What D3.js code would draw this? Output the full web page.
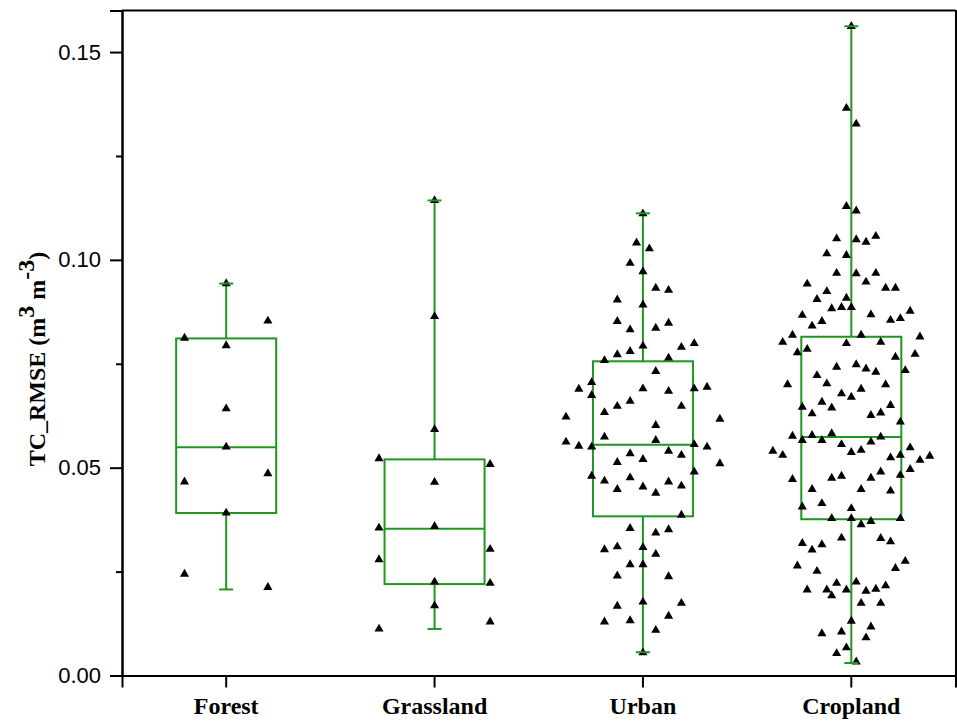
<!DOCTYPE html>
<html>
<head>
<meta charset="utf-8">
<script src="https://cdn.jsdelivr.net/npm/d3@7"></script>
<style>
	body { margin: 0; background: #fff; }
	svg { display: block; }
</style>
</head>
<body>
<svg class="chartContainer"></svg>
<script>
// ---------------- data ---------------- //
var categories = ["Forest", "Grassland", "Urban", "Cropland"];

// TC_RMSE of each site, in worksheet order
var forestValues = [0.0244, 0.0212, 0.0391, 0.0466, 0.0486, 0.0550, 0.0642, 0.0794, 0.0812, 0.0853, 0.0943];

var grasslandValues = [0.0112, 0.0168, 0.0129, 0.0279, 0.0225, 0.0222, 0.0355, 0.0359, 0.0304,
	0.0465, 0.0522, 0.0592, 0.0508, 0.0864, 0.1143];

var urbanValues = [0.1111,
	0.1041, 0.1027,
	0.0904, 0.0992, 0.0972, 0.0932, 0.0927,
	0.0852, 0.0832, 0.0892, 0.0836, 0.0848,
	0.0705, 0.0758, 0.0772, 0.0780, 0.0793, 0.0732, 0.0764, 0.0790, 0.0799,
	0.0622, 0.0689, 0.0674, 0.0633, 0.0648, 0.0660, 0.0690, 0.0602, 0.0684, 0.0648, 0.0690, 0.0694, 0.0617,
	0.0562, 0.0552, 0.0550, 0.0574, 0.0513, 0.0534, 0.0520, 0.0566, 0.0540, 0.0530, 0.0556, 0.0550, 0.0510,
	0.0480, 0.0468, 0.0448, 0.0476, 0.0454, 0.0439, 0.0466, 0.0456, 0.0490,
	0.0303, 0.0310, 0.0354, 0.0308, 0.0343, 0.0351, 0.0386,
	0.0240, 0.0267, 0.0267, 0.0292, 0.0238,
	0.0129, 0.0167, 0.0132, 0.0177, 0.0109, 0.0143, 0.0174,
	0.0055];

var croplandValues = [0.1562,
	0.1365, 0.1327,
	0.1129, 0.1118,
	0.1015, 0.1051, 0.1011, 0.1049, 0.1043, 0.1057,
	0.0942, 0.0905, 0.0924, 0.0968, 0.0908, 0.0967, 0.0947, 0.0968, 0.0932, 0.0932,
	0.0802, 0.0819, 0.0867, 0.0841, 0.0852, 0.0883, 0.0886, 0.0886, 0.0819, 0.0868, 0.0802, 0.0855, 0.0859, 0.0877, 0.0815,
	0.0700, 0.0777, 0.0785, 0.0722, 0.0702, 0.0742, 0.0799, 0.0748, 0.0738, 0.0730, 0.0700, 0.0766, 0.0734, 0.0773,
	0.0646, 0.0630, 0.0658, 0.0644, 0.0678, 0.0670, 0.0689, 0.0626, 0.0632, 0.0650, 0.0610,
	0.0540, 0.0530, 0.0576, 0.0566, 0.0578, 0.0566, 0.0582, 0.0556, 0.0537, 0.0542, 0.0562, 0.0574, 0.0524, 0.0530, 0.0548, 0.0518, 0.0528,
	0.0472, 0.0406, 0.0448, 0.0414, 0.0475, 0.0480, 0.0402, 0.0448, 0.0475, 0.0490, 0.0444, 0.0482, 0.0496,
	0.0318, 0.0302, 0.0315, 0.0378, 0.0331, 0.0378, 0.0363, 0.0371, 0.0330, 0.0322, 0.0378,
	0.0264, 0.0206, 0.0251, 0.0206, 0.0222, 0.0206, 0.0225, 0.0203, 0.0208, 0.0216, 0.0258, 0.0275,
	0.0101, 0.0192, 0.0105, 0.0131, 0.0174, 0.0117, 0.0174,
	0.0053, 0.0067, 0.0033, 0.0091];

// box statistics (same order as categories)
var boxMin = [0.0207, 0.0112, 0.0056, 0.0030];
var boxQ1 = [0.0391, 0.0220, 0.0383, 0.0376];
var boxMedian = [0.0549, 0.0353, 0.0555, 0.0574];
var boxQ3 = [0.0811, 0.0520, 0.0756, 0.0815];
var boxMax = [0.0943, 0.1143, 0.1112, 0.1562];

var yTickValues = [0, 0.05, 0.10, 0.15];
var yMinorTicks = [0.025, 0.075, 0.125];

function drawChart() {
	"use strict";
	var width = 957, height = 723;
	var left = 122, right = 955.5, top = 10.5, bottom = 675.5;
	var green = "#1f961f";

	var svg = d3.select(".chartContainer")
		.attr("width", width)
		.attr("height", height);

	var x = d3.scaleBand()
		.domain(categories)
		.range([left, right])
		.padding(0);
	var y = d3.scaleLinear()
		.domain([0, 0.16])
		.range([bottom, top]);

	var boxWidth = x.bandwidth() * 0.48;
	var capWidth = 14;
	var spread = x.bandwidth() * 0.8;

	// Bin the points by 0.01 and spread each bin sideways (like Origin does)
	function binLayout(values) {
		var bins = d3.group(values, function(v) { return Math.floor(v * 100 + 1e-9); });
		var maxCount = d3.max(Array.from(bins.values()), function(b) { return b.length; });
		var step = spread / maxCount;
		var out = [];
		bins.forEach(function(b) {
			b.forEach(function(v, k) {
				out.push({value: v, offset: (k - (b.length - 1) / 2) * step});
			});
		});
		return out;
	}

	var groups = [forestValues, grasslandValues, urbanValues, croplandValues].map(function(vals, i) {
		return {
			name: categories[i],
			min: boxMin[i], q1: boxQ1[i], median: boxMedian[i], q3: boxQ3[i], max: boxMax[i],
			points: binLayout(vals)
		};
	});

	function cx(d) { return x(d.name) + x.bandwidth() / 2; }

	// ----- boxes ----- //
	var box = svg.selectAll("g.box")
		.data(groups)
		.enter().append("g")
		.attr("class", "box")
		.attr("fill", "none")
		.attr("stroke", green)
		.attr("stroke-width", 2);
	box.append("line")// upper whisker
		.attr("x1", cx).attr("x2", cx)
		.attr("y1", function(d) { return y(d.q3); })
		.attr("y2", function(d) { return y(d.max); });
	box.append("line")// lower whisker
		.attr("x1", cx).attr("x2", cx)
		.attr("y1", function(d) { return y(d.q1); })
		.attr("y2", function(d) { return y(d.min); });
	box.append("rect")
		.attr("x", function(d) { return cx(d) - boxWidth / 2; })
		.attr("y", function(d) { return y(d.q3); })
		.attr("width", boxWidth)
		.attr("height", function(d) { return y(d.q1) - y(d.q3); });
	box.append("line")// median
		.attr("x1", function(d) { return cx(d) - boxWidth / 2; })
		.attr("x2", function(d) { return cx(d) + boxWidth / 2; })
		.attr("y1", function(d) { return y(d.median); })
		.attr("y2", function(d) { return y(d.median); });

	// ----- points ----- //
	var tri = d3.symbol().type(d3.symbolTriangle).size(36);
	groups.forEach(function(g) {
		svg.append("g")
			.selectAll("path")
			.data(g.points)
			.enter().append("path")
			.attr("d", tri)
			.attr("fill", "#000")
			.attr("transform", function(p) {
				return "translate(" + (cx(g) + p.offset) + "," + y(p.value) + ")";
			});
	});

	// whisker caps on top
	var caps = svg.selectAll("g.caps")
		.data(groups)
		.enter().append("g")
		.attr("stroke", green)
		.attr("stroke-width", 2);
	caps.append("line")
		.attr("x1", function(d) { return cx(d) - capWidth / 2; })
		.attr("x2", function(d) { return cx(d) + capWidth / 2; })
		.attr("y1", function(d) { return y(d.max); })
		.attr("y2", function(d) { return y(d.max); });
	caps.append("line")
		.attr("x1", function(d) { return cx(d) - capWidth / 2; })
		.attr("x2", function(d) { return cx(d) + capWidth / 2; })
		.attr("y1", function(d) { return y(d.min); })
		.attr("y2", function(d) { return y(d.min); });

	// ----- axes ----- //
	var yAxis = d3.axisLeft(y)
		.tickValues(yTickValues)
		.tickFormat(d3.format(".2f"))
		.tickSize(12)
		.tickPadding(9);
	var gy = svg.append("g")
		.attr("transform", "translate(" + left + ",0)")
		.call(yAxis);
	gy.selectAll("text")
		.attr("font-family", "Liberation Sans, Arial, sans-serif")
		.attr("font-size", 22)
		.attr("fill", "#000");

	svg.append("g")
		.attr("transform", "translate(" + left + ",0)")
		.call(d3.axisLeft(y).tickValues(yMinorTicks).tickSize(6).tickFormat(""));

	svg.append("g")
		.attr("transform", "translate(" + right + ",0)")
		.call(d3.axisRight(y).tickValues(yTickValues.concat(yMinorTicks)).tickSize(6).tickFormat(""));

	var gx = svg.append("g")
		.attr("transform", "translate(0," + bottom + ")")
		.call(d3.axisBottom(x).tickSize(12).tickPadding(9));
	gx.selectAll("text")
		.attr("font-family", "Liberation Serif, Times New Roman, serif")
		.attr("font-weight", "bold")
		.attr("font-size", 24)
		.attr("fill", "#000");

	svg.selectAll(".domain, .tick line")
		.attr("stroke", "#000")
		.attr("stroke-width", 2);

	// top frame line
	svg.append("line")
		.attr("x1", left).attr("x2", right)
		.attr("y1", top).attr("y2", top)
		.attr("stroke", "#000")
		.attr("stroke-width", 2);

	// ----- y title ----- //
	var yTitle = svg.append("text")
		.attr("transform", "translate(45,359) rotate(-90)")
		.attr("text-anchor", "middle")
		.attr("font-family", "Liberation Serif, Times New Roman, serif")
		.attr("font-weight", "bold")
		.attr("font-size", 24)
		.attr("fill", "#000");
	yTitle.append("tspan").text("TC_RMSE (m");
	yTitle.append("tspan").attr("dy", -11).text("3");
	yTitle.append("tspan").attr("dy", 11).text(" m");
	yTitle.append("tspan").attr("dy", -11).text("-3");
	yTitle.append("tspan").attr("dy", 11).text(")");
}
drawChart();
</script>
</body>
</html>
